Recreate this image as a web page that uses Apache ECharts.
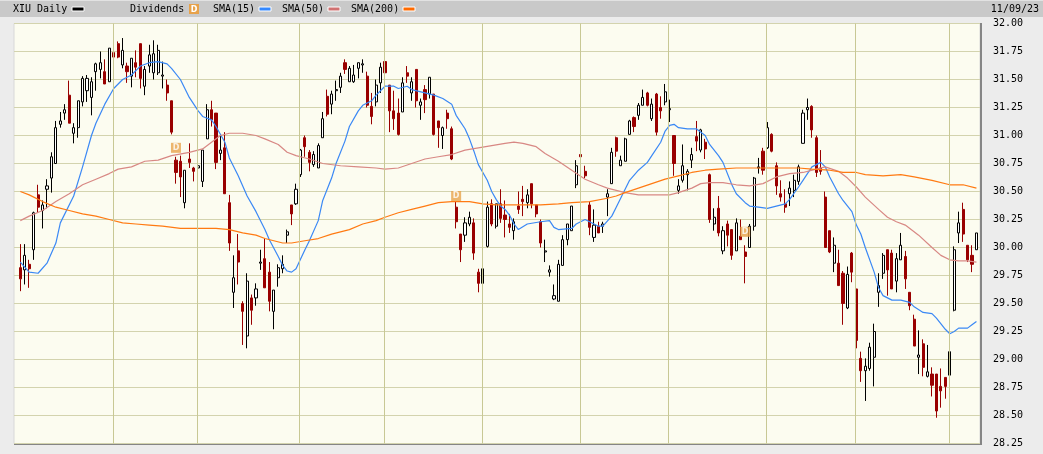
<!DOCTYPE html>
<html><head><meta charset="utf-8">
<script src="https://cdn.jsdelivr.net/npm/echarts@6/dist/echarts.min.js"></script>
<style>html,body{margin:0;padding:0;background:#ececec;}#c{width:1043px;height:454px;}</style>
</head><body><div id="c"></div><script>
// ---- data ----
const firstDay = '2023-01-03', lastDay = '2023-11-09';
const holidays = ['2023-02-20','2023-04-07','2023-05-22','2023-07-03','2023-08-07','2023-09-04','2023-10-09'];
// [open, close, low, high]
const candles = [
[29.82,29.72,29.61,30.03],[29.80,29.93,29.67,30.03],[29.85,29.81,29.64,29.89],[29.98,30.31,29.89,30.32],[30.47,30.36,30.31,30.56],
[30.33,30.38,30.17,30.42],[30.52,30.55,30.35,30.61],[30.62,30.81,30.49,30.85],[30.75,31.07,30.75,31.13],[31.10,31.13,31.07,31.21],
[31.20,31.23,31.14,31.28],[31.36,31.11,31.11,31.49],[31.02,31.07,30.93,31.11],[31.07,31.31,30.98,31.31],[31.30,31.51,31.26,31.53],
[31.40,31.51,31.30,31.54],[31.34,31.48,31.18,31.52],[31.57,31.64,31.40,31.65],[31.59,31.65,31.51,31.75],[31.57,31.46,31.46,31.68],
[31.48,31.78,31.48,31.78],[31.74,31.70,31.46,31.82],[31.82,31.70,31.69,31.84],[31.63,31.76,31.60,31.87],[31.62,31.57,31.47,31.65],
[31.53,31.69,31.43,31.69],[31.65,31.61,31.52,31.76],[31.82,31.51,31.42,31.82],[31.44,31.59,31.36,31.62],[31.62,31.72,31.56,31.81],
[31.56,31.73,31.50,31.85],[31.56,31.76,31.54,31.81],[31.53,31.54,31.42,31.66],[31.45,31.38,31.31,31.50],[31.31,31.03,31.01,31.31],
[30.78,30.67,30.57,30.81],[30.77,30.63,30.45,30.82],[30.40,30.69,30.35,30.69],[30.79,30.76,30.71,30.93],[30.71,30.68,30.59,30.72],
[30.71,30.73,30.61,30.81],[30.59,30.87,30.54,30.87],[30.97,31.23,30.97,31.28],[31.23,31.14,31.08,31.31],[31.20,30.76,30.70,31.20],
[30.84,30.87,30.78,31.01],[30.89,30.48,30.48,31.03],[30.40,30.04,29.97,30.47],[29.60,29.73,29.46,29.93],[29.97,29.87,29.67,30.12],
[29.50,29.43,29.13,29.52],[29.21,29.70,29.10,29.77],[29.55,29.44,29.31,29.58],[29.55,29.63,29.48,29.68],[29.86,29.87,29.80,29.98],
[29.90,29.64,29.64,30.08],[29.78,29.52,29.43,29.87],[29.43,29.62,29.27,29.62],[29.73,29.82,29.65,29.85],[29.81,29.85,29.77,29.93],
[30.11,30.14,30.04,30.16],[30.38,30.30,30.20,30.38],[30.39,30.52,30.38,30.57],[30.65,30.87,30.63,30.88],[30.98,30.90,30.81,31.00],
[30.85,30.76,30.68,30.87],[30.74,30.83,30.72,30.86],[30.71,30.91,30.71,30.93],[30.98,31.15,30.98,31.21],[31.35,31.19,31.17,31.41],
[31.28,31.37,31.19,31.40],[31.40,31.41,31.31,31.49],[31.43,31.53,31.38,31.56],[31.65,31.59,31.55,31.68],[31.48,31.60,31.48,31.62],
[31.48,31.54,31.47,31.63],[31.60,31.65,31.51,31.65],[31.63,31.64,31.56,31.68],[31.53,31.27,31.25,31.57],[31.26,31.17,31.10,31.38],
[31.30,31.45,31.26,31.50],[31.47,31.61,31.38,31.65],[31.66,31.56,31.56,31.80],[31.45,31.22,31.03,31.45],[31.22,31.15,31.05,31.40],
[31.20,31.01,31.00,31.33],[31.21,31.47,31.21,31.52],[31.56,31.53,31.47,31.62],[31.38,31.48,31.31,31.52],[31.59,31.31,31.25,31.59],
[31.27,31.30,31.14,31.33],[31.41,31.32,31.20,31.45],[31.37,31.52,31.33,31.52],[31.37,31.01,31.00,31.37],[31.13,31.07,30.89,31.13],
[31.00,31.07,30.88,31.08],[31.20,31.15,31.06,31.23],[31.06,30.79,30.78,31.08],[30.36,30.23,30.17,30.41],[30.12,29.98,29.87,30.12],
[30.11,30.22,30.05,30.27],[30.21,30.27,30.19,30.32],[30.22,29.95,29.89,30.26],[29.78,29.68,29.60,29.81],[29.68,29.81,29.60,29.90],
[30.01,30.36,30.00,30.41],[30.39,30.21,30.19,30.43],[30.19,30.39,30.17,30.39],[30.39,30.26,30.22,30.52],[30.29,30.25,30.09,30.42],
[30.21,30.18,30.13,30.30],[30.15,30.23,30.07,30.26],[30.37,30.34,30.30,30.50],[30.43,30.41,30.28,30.55],[30.40,30.47,30.35,30.52],
[30.57,30.39,30.35,30.57],[30.38,30.30,30.27,30.38],[30.23,30.04,30.00,30.25],[29.96,29.97,29.87,30.07],[29.78,29.80,29.74,29.84],
[29.54,29.57,29.53,29.67],[29.52,29.85,29.52,29.89],[29.84,30.07,29.84,30.11],[30.07,30.21,30.02,30.21],[30.15,30.37,30.15,30.37],
[30.56,30.73,30.53,30.78],[30.83,30.81,30.75,30.86],[30.68,30.64,30.62,30.73],[30.38,30.18,30.11,30.41],[30.09,30.20,30.05,30.34],
[30.19,30.13,30.13,30.23],[30.19,30.21,30.13,30.23],[30.45,30.48,30.28,30.52],[30.57,30.85,30.57,30.89],[30.98,30.86,30.81,30.99],
[30.73,30.78,30.73,30.82],[30.77,30.97,30.77,30.98],[31.01,31.13,31.01,31.14],[31.16,31.08,31.03,31.17],[31.18,31.27,31.14,31.29],
[31.27,31.34,31.27,31.41],[31.38,31.27,31.26,31.39],[31.15,31.28,31.13,31.33],[31.37,31.03,31.00,31.38],[31.25,31.22,31.15,31.35],
[31.30,31.39,31.27,31.46],[31.23,31.24,31.12,31.32],[31.00,30.75,30.64,31.00],[30.51,30.55,30.48,30.61],[30.60,30.73,30.58,30.92],
[30.65,30.68,30.51,30.70],[30.78,30.83,30.71,30.89],[30.99,30.95,30.86,31.13],[30.87,31.05,30.85,31.06],[30.94,30.88,30.79,30.97],
[30.65,30.25,30.22,30.66],[30.21,30.27,30.15,30.35],[30.35,30.13,30.10,30.46],[29.97,30.15,29.94,30.19],[30.21,30.11,30.01,30.24],
[30.16,29.93,29.89,30.16],[29.97,30.22,29.97,30.26],[30.10,30.07,30.07,30.25],[29.96,29.92,29.68,30.02],[30.00,30.19,30.00,30.21],
[30.19,30.62,30.15,30.63],[30.71,30.72,30.66,30.80],[30.86,30.69,30.65,30.89],[30.89,31.07,30.88,31.12],[31.01,30.86,30.85,31.02],
[30.73,30.55,30.47,30.76],[30.48,30.45,30.41,30.60],[30.39,30.36,30.31,30.52],[30.48,30.53,30.37,30.59],[30.51,30.60,30.45,30.65],
[30.59,30.72,30.56,30.74],[30.93,31.20,30.93,31.23],[31.23,31.25,31.14,31.33],[31.26,31.05,30.98,31.27],[30.98,30.67,30.63,31.00],
[30.71,30.68,30.65,30.87],[30.45,30.00,30.00,30.50],[30.15,29.96,29.95,30.15],[29.86,30.02,29.78,30.09],[29.86,29.66,29.66,29.98],
[29.77,29.50,29.31,29.79],[29.46,29.76,29.45,29.83],[29.95,29.78,29.69,29.96],[29.63,29.17,29.10,29.63],[29.01,28.90,28.80,29.07],
[28.90,28.94,28.63,29.01],[28.92,29.11,28.90,29.15],[29.02,29.25,28.76,29.32],[29.60,29.66,29.47,29.77],[29.77,29.93,29.72,29.95],
[29.98,29.80,29.57,29.98],[29.95,29.63,29.63,29.98],[29.70,29.90,29.60,29.95],[29.89,30.02,29.89,30.13],[29.92,29.72,29.63,29.97],
[29.60,29.48,29.44,29.60],[29.36,29.12,29.12,29.40],[29.02,29.04,28.87,29.26],[29.14,28.93,28.85,29.18],[28.85,28.89,28.84,29.13],
[28.87,28.77,28.67,28.93],[28.87,28.54,28.48,28.87],[28.76,28.72,28.57,28.92],[28.84,28.76,28.65,28.84],[28.86,29.07,28.81,29.10],
[29.44,29.98,29.43,30.01],[30.13,30.22,30.04,30.32],[30.34,30.12,30.05,30.40],[30.02,29.89,29.87,30.02],[29.93,29.85,29.78,30.02],
[29.98,30.13,29.98,30.13]
];
// moving averages: [day index, value]
const sma15 = [[0,29.87],[2,29.78],[4,29.77],[6,29.86],[8,30.04],[9,30.22],[12,30.46],[14,30.72],[16,31.00],[17,31.11],[19,31.28],[21,31.42],[23,31.50],[25,31.54],[27,31.62],[29,31.65],[31,31.66],[33,31.64],[34,31.60],[36,31.50],[38,31.34],[40,31.22],[41,31.17],[43,31.14],[44,31.08],[46,30.94],[47,30.80],[49,30.64],[51,30.46],[53,30.32],[55,30.16],[56,30.07],[58,29.92],[59,29.84],[60,29.79],[61,29.78],[62,29.81],[64,29.98],[65,30.06],[67,30.24],[68,30.42],[70,30.62],[71,30.75],[73,30.95],[74,31.08],[76,31.22],[77,31.27],[79,31.31],[80,31.36],[82,31.44],[84,31.44],[85,31.42],[87,31.44],[88,31.41],[91,31.38],[93,31.36],[95,31.33],[97,31.28],[98,31.18],[100,31.06],[101,30.97],[102,30.86],[103,30.74],[105,30.60],[106,30.50],[107,30.43],[108,30.37],[109,30.34],[110,30.29],[111,30.21],[112,30.16],[114,30.21],[117,30.23],[119,30.24],[120,30.18],[121,30.16],[124,30.17],[125,30.21],[127,30.25],[128,30.23],[130,30.19],[131,30.19],[133,30.28],[134,30.36],[136,30.52],[137,30.60],[139,30.69],[141,30.76],[142,30.82],[144,30.94],[145,31.04],[146,31.09],[147,31.10],[148,31.07],[150,31.06],[152,31.06],[154,31.00],[155,30.92],[157,30.82],[158,30.76],[160,30.56],[161,30.48],[163,30.40],[164,30.37],[166,30.36],[168,30.35],[170,30.37],[172,30.39],[173,30.43],[175,30.54],[176,30.60],[178,30.72],[180,30.76],[181,30.72],[182,30.63],[184,30.48],[185,30.42],[187,30.32],[188,30.20],[189,30.12],[190,30.00],[192,29.78],[193,29.64],[194,29.57],[196,29.53],[198,29.53],[200,29.51],[201,29.47],[203,29.42],[205,29.41],[206,29.37],[208,29.27],[209,29.23],[210,29.25],[211,29.28],[213,29.28],[214,29.31],[215,29.34]];
const sma50 = [[0,30.24],[2,30.28],[5,30.33],[8,30.41],[11,30.48],[14,30.56],[17,30.61],[20,30.66],[22,30.70],[25,30.72],[28,30.77],[31,30.78],[34,30.82],[38,30.85],[41,30.88],[43,30.94],[45,31.00],[47,31.02],[50,31.02],[53,31.00],[55,30.97],[58,30.92],[60,30.85],[62,30.82],[65,30.79],[68,30.75],[72,30.73],[76,30.72],[80,30.71],[82,30.70],[85,30.71],[88,30.75],[91,30.79],[94,30.81],[97,30.83],[100,30.87],[103,30.89],[106,30.91],[109,30.93],[111,30.94],[113,30.93],[116,30.90],[118,30.84],[121,30.77],[124,30.69],[127,30.61],[130,30.56],[132,30.53],[134,30.51],[136,30.49],[139,30.47],[142,30.47],[146,30.47],[148,30.49],[151,30.53],[153,30.57],[155,30.58],[158,30.58],[161,30.56],[164,30.55],[167,30.57],[170,30.63],[173,30.66],[176,30.67],[179,30.70],[181,30.72],[184,30.68],[186,30.62],[188,30.54],[190,30.45],[193,30.34],[195,30.27],[197,30.23],[199,30.20],[202,30.11],[205,30.00],[207,29.93],[209,29.89],[211,29.88],[213,29.88],[215,29.87]];
const sma200 = [[0,30.50],[2,30.47],[5,30.41],[8,30.36],[11,30.33],[14,30.30],[17,30.28],[20,30.25],[23,30.22],[26,30.21],[29,30.20],[32,30.19],[36,30.17],[40,30.17],[44,30.17],[47,30.16],[50,30.13],[53,30.11],[55,30.08],[59,30.04],[61,30.04],[64,30.06],[67,30.08],[70,30.12],[74,30.16],[77,30.21],[80,30.24],[82,30.27],[85,30.31],[88,30.34],[91,30.37],[94,30.40],[97,30.41],[101,30.41],[104,30.39],[107,30.38],[113,30.38],[117,30.38],[121,30.39],[124,30.40],[128,30.41],[132,30.44],[134,30.46],[136,30.49],[139,30.53],[142,30.57],[145,30.61],[148,30.64],[151,30.67],[154,30.69],[157,30.70],[161,30.71],[167,30.71],[175,30.71],[178,30.70],[182,30.69],[185,30.67],[188,30.67],[190,30.65],[194,30.64],[198,30.65],[201,30.63],[205,30.60],[209,30.56],[212,30.56],[215,30.53]];
const dividends = [[35,30.89],[98,30.46],[163,30.14]];
const yTicks = {min: 28.25, max: 32.00, step: 0.25};
const dateLabel = '11/09/23';

// ---- trading calendar (for month separators) ----
function tradingDays(){
  const out=[]; let t=Date.parse(firstDay+'T00:00:00Z'); const end=Date.parse(lastDay+'T00:00:00Z');
  while(t<=end){ const d=new Date(t); const wd=d.getUTCDay(); const s=d.toISOString().slice(0,10);
    if(wd!==0&&wd!==6&&holidays.indexOf(s)<0) out.push(s); t+=86400000; }
  return out;
}
const days = tradingDays();
const monthStarts = [];
for(let i=1;i<days.length;i++){ if(days[i].slice(5,7)!==days[i-1].slice(5,7)) monthStarts.push(i); }

const chart = echarts.init(document.getElementById('c'), null, {renderer:'canvas'});
const mono = '"DejaVu Sans Mono", monospace';
function legendText(x, t){ return {type:'text', x:x, y:9.5, style:{text:t, font:'10px '+mono, fill:'#000', verticalAlign:'middle'}}; }
function swatch(x, col){ return {type:'rect', shape:{x:x, y:7, width:12, height:4}, style:{fill:col, stroke:'#ffffff', lineWidth:1}}; }

chart.setOption({
  animation:false,
  backgroundColor:'#ececec',
  grid:{left:14, right:63, top:23.5, bottom:10.5, show:true, backgroundColor:'#fcfcf0', borderColor:'#d8d8d8', borderWidth:1},
  xAxis:{type:'value', min:-1.42, max:215.8, axisLine:{show:false}, axisTick:{show:false}, axisLabel:{show:false}, splitLine:{show:false}},
  yAxis:{type:'value', position:'right', min:yTicks.min, max:yTicks.max, interval:yTicks.step, scale:true,
    axisLine:{show:false}, axisTick:{show:false},
    axisLabel:{margin:13, color:'#000', fontFamily:mono, fontSize:10, formatter:v=>v.toFixed(2)},
    splitLine:{lineStyle:{color:'#d3d3ae', width:1}}},
  series:[
    {type:'line', z:1, data:[[0,20]], showSymbol:false, lineStyle:{opacity:0}, silent:true,
     markLine:{silent:true, symbol:['none','none'], label:{show:false}, animation:false,
       lineStyle:{color:'#c8c894', width:1, type:'solid'},
       data: monthStarts.map(i=>({xAxis:i-0.2}))}},
    {type:'candlestick', name:'XIU Daily', z:3, barWidth:2.6,
     data: candles.map((c,i)=>[i,c[0],c[1],c[2],c[3]]),
     itemStyle:{color:'#ffffff', color0:'#990000', borderColor:'#000000', borderColor0:'#990000', borderWidth:1}},
    {type:'line', name:'SMA(15)', z:4, data:sma15, showSymbol:false, lineStyle:{color:'#3a88f5', width:1.2}},
    {type:'line', name:'SMA(50)', z:4, data:sma50, showSymbol:false, lineStyle:{color:'#d88884', width:1.2}},
    {type:'line', name:'SMA(200)', z:4, data:sma200, showSymbol:false, lineStyle:{color:'#ff7a12', width:1.2}},
    {type:'scatter', name:'Dividends', z:5, data:dividends, symbol:'rect', symbolSize:[10,10],
     itemStyle:{color:'#e7a24b'},
     label:{show:true, position:'inside', formatter:'D', color:'#ffffff', fontSize:8, fontWeight:'bold', fontFamily:'DejaVu Sans'}}
  ],
  graphic:[
    {type:'rect', shape:{x:0,y:0,width:1043,height:17}, style:{fill:'#c9c9c9'}},
    {type:'rect', shape:{x:0,y:0,width:1043,height:1}, style:{fill:'#e2e2e2'}},
    {type:'rect', shape:{x:980,y:23,width:2,height:422}, style:{fill:'#858585'}},
    {type:'rect', shape:{x:14,y:443,width:968,height:2}, style:{fill:'#858585'}},
    legendText(13,'XIU Daily'), swatch(72,'#000000'),
    legendText(130,'Dividends'),
    {type:'rect', shape:{x:189,y:4,width:10,height:10}, style:{fill:'#e7a24b'}},
    {type:'text', x:194, y:9.5, style:{text:'D', font:'bold 8px "DejaVu Sans"', fill:'#fff', align:'center', verticalAlign:'middle'}},
    legendText(213,'SMA(15)'), swatch(259,'#3388ff'),
    legendText(282,'SMA(50)'), swatch(328,'#d07272'),
    legendText(351,'SMA(200)'), swatch(403,'#ff6a00'),
    {type:'text', x:1039, y:9.5, style:{text:dateLabel, font:'10px '+mono, fill:'#000', align:'right', verticalAlign:'middle'}}
  ]
});
</script></body></html>
